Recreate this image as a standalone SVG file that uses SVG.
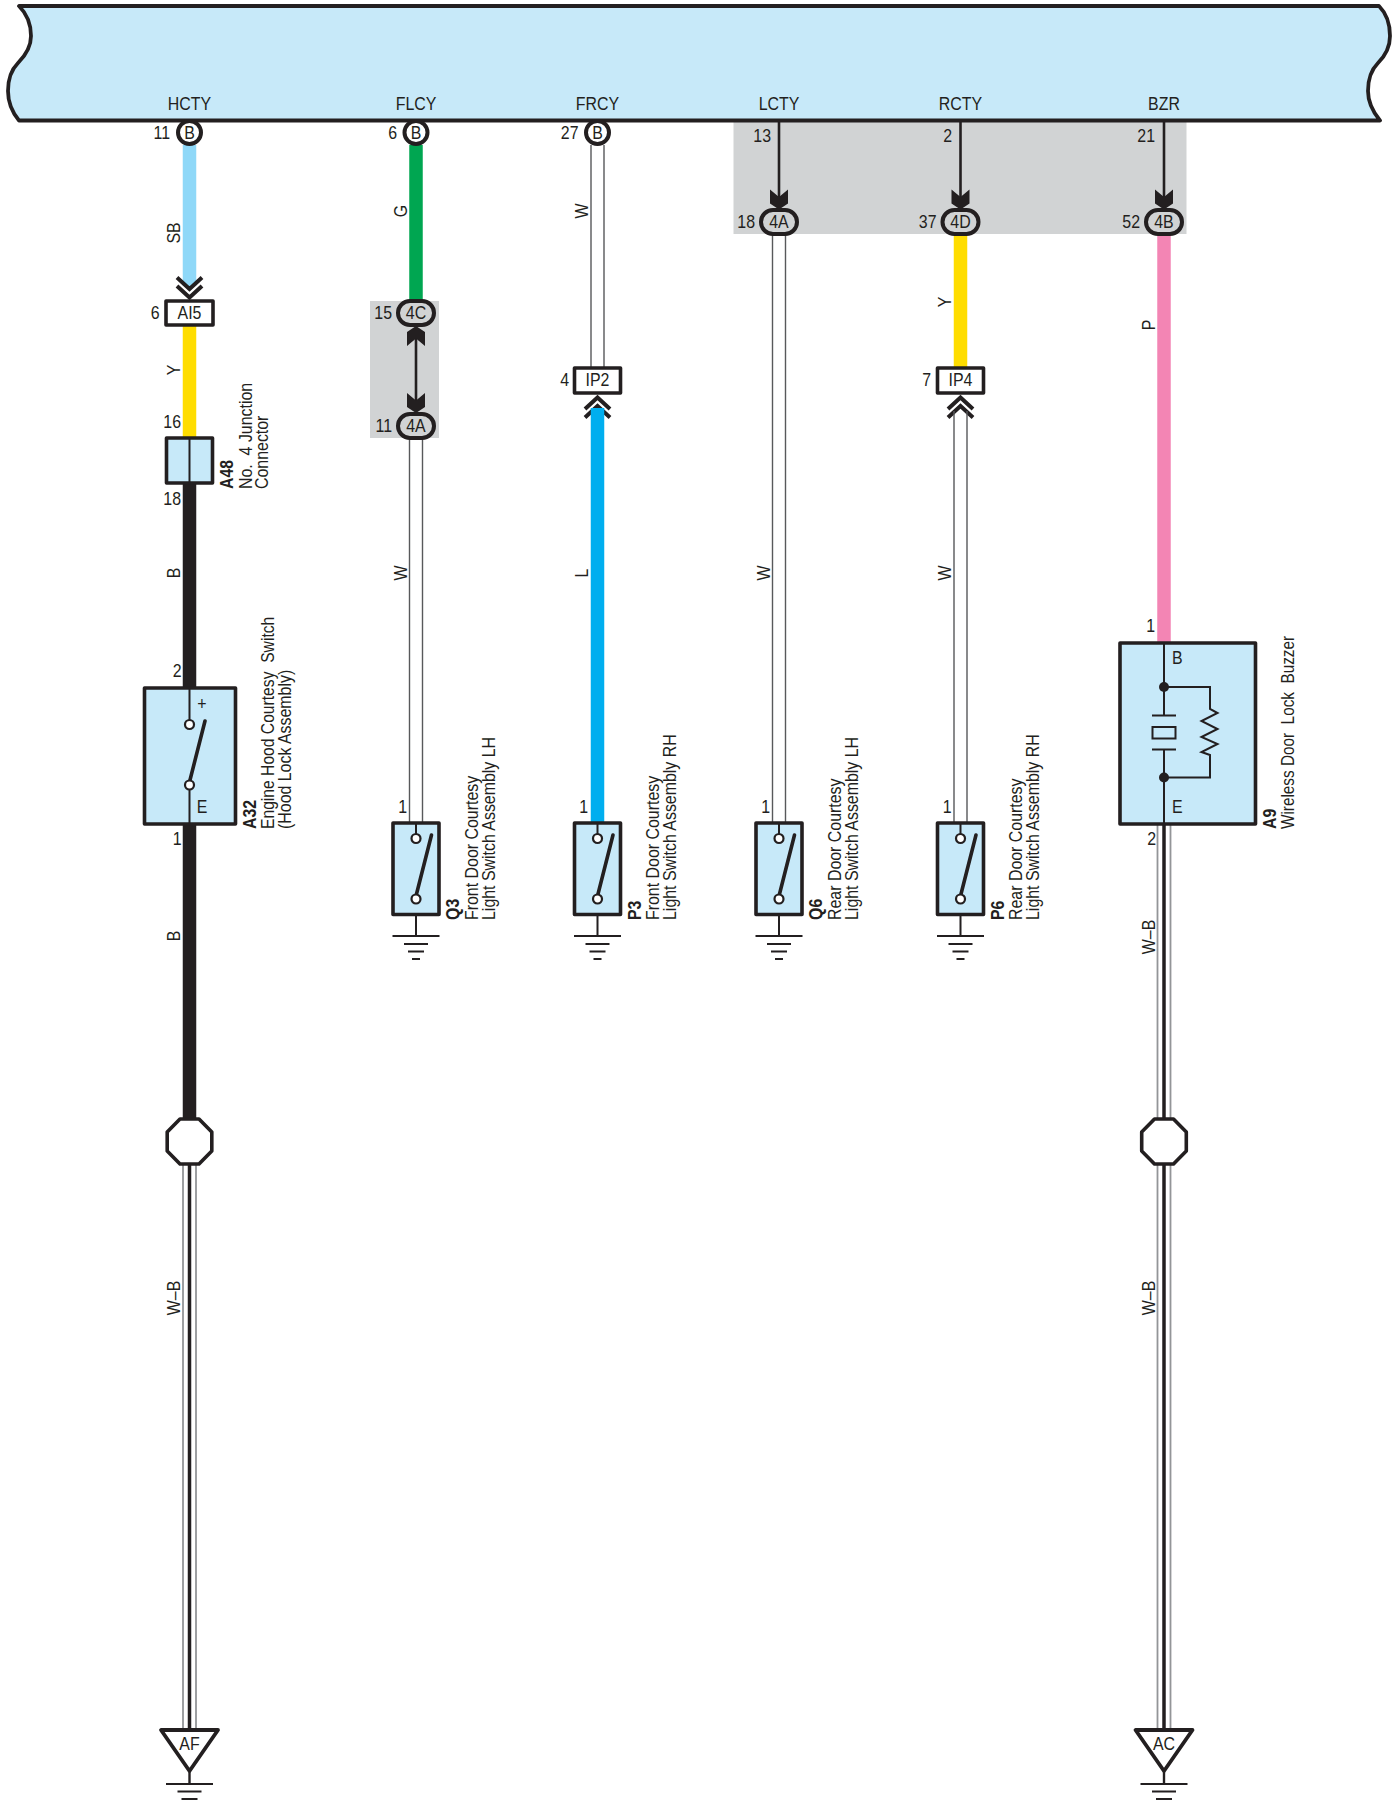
<svg xmlns="http://www.w3.org/2000/svg" width="1399" height="1805" viewBox="0 0 1399 1805">
<style>
.t{font-family:"Liberation Sans",Arial,sans-serif;font-size:17.5px;fill:#231f20;white-space:pre}
.m{text-anchor:middle}.e{text-anchor:end}.b{font-weight:bold}
.box{fill:#c7e9f9;stroke:#231f20;stroke-width:3.6;stroke-linejoin:round}
.wb{fill:#fff;stroke:#231f20;stroke-width:3.6;stroke-linejoin:round}
.ov{fill:#d1d3d4;stroke:#231f20;stroke-width:4}
.ci{fill:#fff;stroke:#231f20;stroke-width:4}
.th{stroke-width:13.5;fill:none}
.ln{stroke:#231f20;stroke-width:2;fill:none}
.sg{stroke:#231f20;stroke-width:2.6;fill:none}
.w2{stroke:#58595b;stroke-width:1.4;fill:none}
.wg{stroke:#939598;stroke-width:1.8;fill:none}
.wc{stroke:#231f20;stroke-width:3.5;fill:none}
.ch{stroke:#231f20;stroke-width:4;fill:none}
.sw{fill:#fff;stroke:#231f20;stroke-width:2.2}
.bl{stroke:#231f20;stroke-width:3.6;stroke-linecap:round;fill:none}
</style>
<defs>
<path id="arrD" d="M0 20 L-9 14 L-9 0 L0 7.5 L9 0 L9 14 Z" fill="#231f20"/>
<g id="gnd"><path class="ln" d="M0 0V22M-23.5 22H23.5"/><path d="M-12 30H12M-8 37.5H8M-4 45H4" stroke="#231f20" stroke-width="2" fill="none"/></g>
<g id="chU"><path class="ch" d="M-12.500 13 L0 1.500 L12.500 13M-12.500 21.500 L0 10 L12.500 21.500"/></g>
<g id="swi"><path class="ln" d="M0 0V15"/><path class="bl" d="M0 73 L15.500 12"/><circle class="sw" cy="15.500" r="4.500"/><circle class="sw" cy="76" r="4.500"/></g>
<polygon id="oct" class="wb" points="-9.500,-22.500 9.500,-22.500 22.300,-9.500 22.300,9.500 9.500,22.500 -9.500,22.500 -22.300,9.500 -22.300,-9.500"/>
<g id="tri"><path d="M0 42V54" stroke="#231f20" stroke-width="2.4"/><polygon points="-28.500,0 28.500,0 0,41" fill="#fff" stroke="#231f20" stroke-width="3.8" stroke-linejoin="round"/><path d="M-23.500 54H23.500M-12 61.500H12M-8 69H8" stroke="#231f20" stroke-width="2.2" fill="none"/><path d="M-4 76H4" stroke="#939598" stroke-width="2"/></g>
</defs>

<g id="shading">
<rect x="370" y="301" width="69" height="137" fill="#d1d3d4"/>
<rect x="733.500" y="121" width="453" height="113" fill="#d1d3d4"/>
</g>

<g id="connectors">
<path class="th" stroke="#8fd8f8" d="M189.500 145V286"/>
<path class="th" stroke="#ffdd00" d="M189.500 325V438"/>
<path class="th" stroke="#231f20" d="M189.500 483V688M189.500 824V1120"/>
<path class="wg" d="M183 1163V1729M196 1163V1729"/><path class="wc" d="M189.500 1163V1729"/>
<use href="#chU" transform="translate(189.500 299) scale(1 -1)"/>

<path class="th" stroke="#00a651" d="M416 145V301"/>
<path class="sg" d="M416 335V404"/>
<use href="#arrD" transform="translate(416 326) scale(1 -1) translate(0 -20)"/>
<use href="#arrD" transform="translate(416 393)"/>
<path class="w2" d="M409.500 438V823M422.500 438V823"/>

<path class="w2" d="M591 145V368M604 145V368"/>
<use href="#chU" transform="translate(597.500 396)"/>
<path class="th" stroke="#00aeef" d="M597.500 408V823"/>

<path class="sg" d="M779 121V200"/>
<use href="#arrD" transform="translate(779 189.500)"/>
<path class="w2" d="M772.500 234V823M785.500 234V823"/>

<path class="sg" d="M960.500 121V200"/>
<use href="#arrD" transform="translate(960.500 189.500)"/>
<path class="th" stroke="#ffdd00" d="M960.500 234V368"/>
<use href="#chU" transform="translate(960.500 396)"/>
<path class="w2" d="M954 411V823M967 411V823"/>

<path class="sg" d="M1164 121V200"/>
<use href="#arrD" transform="translate(1164 189.500)"/>
<path class="th" stroke="#f385b4" d="M1164 234V642"/>
<path class="wg" d="M1157.500 823V1120M1170.500 823V1120"/><path class="wc" d="M1164 823V1120"/>
<path class="wg" d="M1157.500 1163V1729M1170.500 1163V1729"/><path class="wc" d="M1164 1163V1729"/>

<g>
<text class="t m" transform="matrix(0 -.91 1 0 180 233)">SB</text>
<text class="t m" transform="matrix(0 -.91 1 0 180 370)">Y</text>
<text class="t m" transform="matrix(0 -.91 1 0 180 573)">B</text>
<text class="t m" transform="matrix(0 -.91 1 0 180 936)">B</text>
<text class="t m" transform="matrix(0 -.91 1 0 180 1298)">W–B</text>
<text class="t m" transform="matrix(0 -.91 1 0 407 211)">G</text>
<text class="t m" transform="matrix(0 -.91 1 0 407 573)">W</text>
<text class="t m" transform="matrix(0 -.91 1 0 588 211)">W</text>
<text class="t m" transform="matrix(0 -.91 1 0 588 573)">L</text>
<text class="t m" transform="matrix(0 -.91 1 0 769.500 573)">W</text>
<text class="t m" transform="matrix(0 -.91 1 0 951 302)">Y</text>
<text class="t m" transform="matrix(0 -.91 1 0 951 573)">W</text>
<text class="t m" transform="matrix(0 -.91 1 0 1155 325)">P</text>
<text class="t m" transform="matrix(0 -.91 1 0 1155 937)">W–B</text>
<text class="t m" transform="matrix(0 -.91 1 0 1155 1298)">W–B</text>
</g>
</g>

<g id="ecu">
<path d="M19 6H1379C1387 14 1390 24 1390 36C1390 48 1385 56 1378 63C1371 70 1368 80 1368 91C1368 102 1373 112 1380 120.500H19C12 112 8 102 8 91C8 80 11 70 18 63C25 56 31 48 31 36C31 24 27 14 19 6Z" fill="#c7e9f9" stroke="#231f20" stroke-width="3.800" stroke-linejoin="round"/>
<text class="t m" transform="matrix(.91 0 0 1 189.500 110)">HCTY</text>
<text class="t m" transform="matrix(.91 0 0 1 416 110)">FLCY</text>
<text class="t m" transform="matrix(.91 0 0 1 597.500 110)">FRCY</text>
<text class="t m" transform="matrix(.91 0 0 1 779 110)">LCTY</text>
<text class="t m" transform="matrix(.91 0 0 1 960.500 110)">RCTY</text>
<text class="t m" transform="matrix(.91 0 0 1 1164 110)">BZR</text>
<text class="t e" transform="matrix(.91 0 0 1 771 141.500)">13</text>
<text class="t e" transform="matrix(.91 0 0 1 952 141.500)">2</text>
<text class="t e" transform="matrix(.91 0 0 1 1155 141.500)">21</text>
</g>

<g id="pin-hcty"><circle class="ci" cx="189.500" cy="132.500" r="11.500"/><text class="t m" transform="matrix(.91 0 0 1 189.500 138.500)">B</text><text class="t e" transform="matrix(.91 0 0 1 170 138.500)">11</text></g>
<g id="pin-flcy"><circle class="ci" cx="416" cy="132.500" r="11.500"/><text class="t m" transform="matrix(.91 0 0 1 416 138.500)">B</text><text class="t e" transform="matrix(.91 0 0 1 397 138.500)">6</text></g>
<g id="pin-frcy"><circle class="ci" cx="597.500" cy="132.500" r="11.500"/><text class="t m" transform="matrix(.91 0 0 1 597.500 138.500)">B</text><text class="t e" transform="matrix(.91 0 0 1 578.500 138.500)">27</text></g>

<g id="AI5"><rect class="wb" x="166" y="301" width="47" height="24"/><text class="t m" transform="matrix(.91 0 0 1 189.500 318.500)">AI5</text><text class="t e" transform="matrix(.91 0 0 1 159.500 318.500)">6</text></g>

<g id="A48"><rect class="box" x="166.500" y="438" width="46" height="45"/><path class="ln" d="M189.500 438V483"/>
<text class="t e" transform="matrix(.91 0 0 1 181 428)">16</text><text class="t e" transform="matrix(.91 0 0 1 181 505)">18</text>
<text class="t b" transform="matrix(0 -.91 1 0 233 489)">A48</text>
<text class="t" transform="matrix(0 -.91 1 0 252 489)">No.  4 Junction</text>
<text class="t" transform="matrix(0 -.91 1 0 268 489)">Connector</text></g>

<g id="A32"><rect class="box" x="144.500" y="688" width="91" height="136"/><path class="ln" d="M189.500 688V722M189.500 788V824"/>
<path class="bl" d="M189.500 782 L205 721"/><circle class="sw" cx="189.500" cy="724.500" r="4.500"/><circle class="sw" cx="189.500" cy="785" r="4.500"/>
<text class="t m" transform="matrix(.91 0 0 1 202 710)">+</text><text class="t m" transform="matrix(.91 0 0 1 202 813)">E</text>
<text class="t e" transform="matrix(.91 0 0 1 181.500 677)">2</text><text class="t e" transform="matrix(.91 0 0 1 181.500 845)">1</text>
<text class="t b" transform="matrix(0 -.91 1 0 256 829)">A32</text>
<text class="t" transform="matrix(0 -.895 1 0 274 829)">Engine Hood Courtesy  Switch</text>
<text class="t" transform="matrix(0 -.91 1 0 290.500 829)">(Hood Lock Assembly)</text></g>

<g id="oct-a"><use href="#oct" x="189.500" y="1141.500"/></g>
<g id="AF"><use href="#tri" x="189.500" y="1730"/><text class="t m" transform="matrix(.91 0 0 1 189.500 1750)">AF</text></g>

<g id="J4C"><rect class="ov" x="398" y="301" width="36" height="24" rx="12"/><text class="t m" transform="matrix(.91 0 0 1 416 319)">4C</text><text class="t e" transform="matrix(.91 0 0 1 392 319)">15</text></g>
<g id="J4A-1"><rect class="ov" x="398" y="414" width="36" height="24" rx="12"/><text class="t m" transform="matrix(.91 0 0 1 416 432)">4A</text><text class="t e" transform="matrix(.91 0 0 1 392 432)">11</text></g>

<g id="Q3"><rect class="box" x="393" y="823" width="46" height="91.500"/><use href="#swi" x="416" y="823"/><use href="#gnd" x="416" y="914"/>
<text class="t e" transform="matrix(.91 0 0 1 407 813)">1</text>
<text class="t b" transform="matrix(0 -.91 1 0 459 920)">Q3</text>
<text class="t" transform="matrix(0 -.91 1 0 477.500 920)">Front Door Courtesy</text>
<text class="t" transform="matrix(0 -.91 1 0 494.500 920)">Light Switch Assembly LH</text></g>

<g id="IP2"><rect class="wb" x="574.500" y="368" width="46" height="25"/><text class="t m" transform="matrix(.91 0 0 1 597.500 386)">IP2</text><text class="t e" transform="matrix(.91 0 0 1 569 386)">4</text></g>
<g id="P3"><rect class="box" x="574.500" y="823" width="46" height="91.500"/><use href="#swi" x="597.500" y="823"/><use href="#gnd" x="597.500" y="914"/>
<text class="t e" transform="matrix(.91 0 0 1 588 813)">1</text>
<text class="t b" transform="matrix(0 -.91 1 0 640.500 920)">P3</text>
<text class="t" transform="matrix(0 -.91 1 0 659 920)">Front Door Courtesy</text>
<text class="t" transform="matrix(0 -.91 1 0 676 920)">Light Switch Assembly RH</text></g>

<g id="J4A-2"><rect class="ov" x="761" y="210" width="36" height="24" rx="12"/><text class="t m" transform="matrix(.91 0 0 1 779 228)">4A</text><text class="t e" transform="matrix(.91 0 0 1 755 228)">18</text></g>
<g id="Q6"><rect class="box" x="756" y="823" width="46" height="91.500"/><use href="#swi" x="779" y="823"/><use href="#gnd" x="779" y="914"/>
<text class="t e" transform="matrix(.91 0 0 1 770 813)">1</text>
<text class="t b" transform="matrix(0 -.91 1 0 822 920)">Q6</text>
<text class="t" transform="matrix(0 -.91 1 0 840.500 920)">Rear Door Courtesy</text>
<text class="t" transform="matrix(0 -.91 1 0 857.500 920)">Light Switch Assembly LH</text></g>

<g id="J4D"><rect class="ov" x="942.500" y="210" width="36" height="24" rx="12"/><text class="t m" transform="matrix(.91 0 0 1 960.500 228)">4D</text><text class="t e" transform="matrix(.91 0 0 1 936.500 228)">37</text></g>
<g id="IP4"><rect class="wb" x="937.500" y="368" width="46" height="25"/><text class="t m" transform="matrix(.91 0 0 1 960.500 386)">IP4</text><text class="t e" transform="matrix(.91 0 0 1 931 386)">7</text></g>
<g id="P6"><rect class="box" x="937.500" y="823" width="46" height="91.500"/><use href="#swi" x="960.500" y="823"/><use href="#gnd" x="960.500" y="914"/>
<text class="t e" transform="matrix(.91 0 0 1 951.500 813)">1</text>
<text class="t b" transform="matrix(0 -.91 1 0 1003.500 920)">P6</text>
<text class="t" transform="matrix(0 -.91 1 0 1022 920)">Rear Door Courtesy</text>
<text class="t" transform="matrix(0 -.91 1 0 1039 920)">Light Switch Assembly RH</text></g>

<g id="J4B"><rect class="ov" x="1146" y="210" width="36" height="24" rx="12"/><text class="t m" transform="matrix(.91 0 0 1 1164 228)">4B</text><text class="t e" transform="matrix(.91 0 0 1 1140 228)">52</text></g>

<g id="A9"><rect class="box" x="1120" y="643" width="135.500" height="181"/>
<path class="ln" d="M1164 643V715M1164 749V823M1152 715.500H1176M1152 749.500H1176M1164 687H1210V709L1217.500 713L1201.500 721L1217.500 729L1201.500 737L1217.500 744L1201.500 752L1210 755V777.500H1164"/>
<rect x="1152.500" y="727" width="23" height="11.500" fill="none" stroke="#231f20" stroke-width="2"/>
<circle cx="1164" cy="687" r="5" fill="#231f20"/><circle cx="1164" cy="777.500" r="5" fill="#231f20"/>
<text class="t" transform="matrix(.91 0 0 1 1172 664)">B</text><text class="t" transform="matrix(.91 0 0 1 1172 813)">E</text>
<text class="t e" transform="matrix(.91 0 0 1 1155 632)">1</text><text class="t e" transform="matrix(.91 0 0 1 1156 845)">2</text>
<text class="t b" transform="matrix(0 -.91 1 0 1275.500 829)">A9</text>
<text class="t" transform="matrix(0 -.875 1 0 1294 829)">Wireless Door  Lock  Buzzer</text></g>

<g id="oct-b"><use href="#oct" x="1164" y="1141.500"/></g>
<g id="AC"><use href="#tri" x="1164" y="1730"/><text class="t m" transform="matrix(.91 0 0 1 1164 1750)">AC</text></g>
</svg>
